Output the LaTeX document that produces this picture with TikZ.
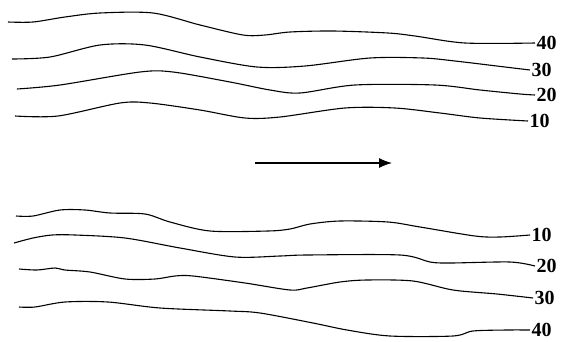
\documentclass[tikz,border=0pt]{standalone}
\usepackage{fontspec}
\setmainfont{Liberation Serif}
\usetikzlibrary{arrows.meta}

\begin{document}
\begin{tikzpicture}[x=1pt, y=-1pt, line width=1.1pt,
    lbl/.style={font=\fontsize{20}{20}\selectfont\bfseries, inner sep=1pt}]
	\useasboundingbox (0,0) rectangle (571,341);
	% upper set
	\draw plot[smooth, tension=0.5] coordinates {(8,22) (33,22) (65,17) (100,13) (153,13) (200,25) (243,35) (265,35) (290,32) (333,31) (388,33) (415,36) (465,43) (535,43)} node[lbl, right] {40};
	\draw plot[smooth, tension=0.5] coordinates {(12,59) (50,57) (100,45) (145,45) (200,57) (257,67) (305,66) (370,58) (423,58) (455,61) (505,67) (530,70)} node[lbl, right] {30};
	\draw plot[smooth, tension=0.5] coordinates {(17,89) (60,85) (140,72) (173,72) (230,82) (270,90) (300,93) (355,85) (435,85) (480,90) (520,94) (535,95)} node[lbl, right] {20};
	\draw plot[smooth, tension=0.5] coordinates {(15,116) (58,116) (120,103) (150,103) (200,110) (245,118) (280,117) (345,108) (395,108) (440,113) (480,118) (528,121)} node[lbl, right] {10};
	% flow direction
	\draw[-{Latex[length=13pt, width=10pt]}] (255,163) -- (392,163);
	% lower set
	\draw plot[smooth, tension=0.5] coordinates {(16,216) (33,216) (60,210) (85,210) (110,213) (145,214) (170,222) (210,231) (268,231) (290,229) (310,224) (340,221) (388,222) (420,227) (475,236) (500,237) (530,235)} node[lbl, right] {10};
	\draw plot[smooth, tension=0.5] coordinates {(14,243) (33,238) (52,235) (75,235) (125,238) (180,248) (235,257) (280,256) (307,255) (400,255) (430,262) (450,263) (510,262) (535,266)} node[lbl, right] {20};
	\draw plot[smooth, tension=0.5] coordinates {(19,269) (37,270) (55,268) (65,270) (90,272) (125,279) (155,279) (175,276) (193,276) (245,283) (290,290) (307,288) (340,282) (367,280) (413,281) (453,290) (497,294) (533,298)} node[lbl, right] {30};
	\draw plot[smooth, tension=0.5] coordinates {(19,307) (35,307) (65,302) (108,302) (160,308) (230,311) (260,313) (313,323) (347,330) (390,336) (453,336) (473,331) (507,330) (530,330)} node[lbl, right] {40};
\end{tikzpicture}
\end{document}
